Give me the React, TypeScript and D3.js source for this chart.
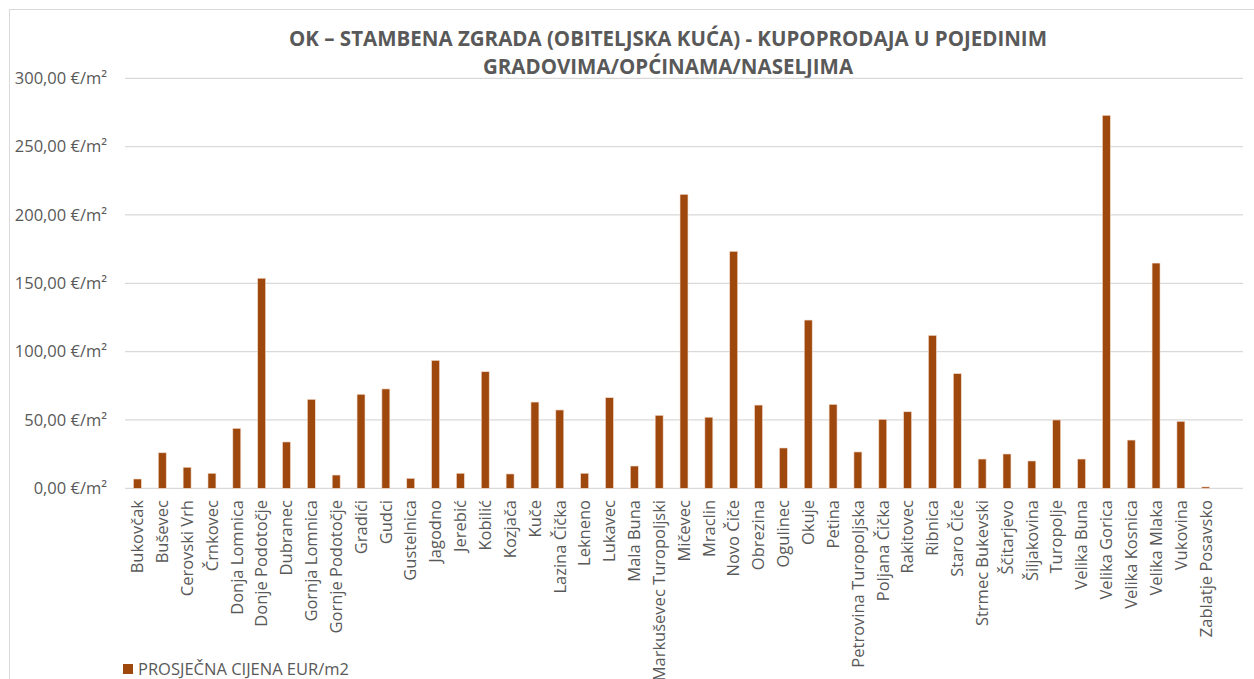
import React from "react";
import * as d3 from "d3";

const categories = [
  "Bukovčak", "Buševec", "Cerovski Vrh", "Črnkovec", "Donja Lomnica", "Donje Podotočje",
  "Dubranec", "Gornja Lomnica", "Gornje Podotočje", "Gradići", "Gudci", "Gustelnica",
  "Jagodno", "Jerebić", "Kobilić", "Kozjača", "Kuče", "Lazina Čička", "Lekneno", "Lukavec",
  "Mala Buna", "Markuševec Turopoljski", "Mičevec", "Mraclin", "Novo Čiče", "Obrezina",
  "Ogulinec", "Okuje", "Petina", "Petrovina Turopoljska", "Poljana Čička", "Rakitovec",
  "Ribnica", "Staro Čiče", "Strmec Bukevski", "Ščitarjevo", "Šiljakovina", "Turopolje",
  "Velika Buna", "Velika Gorica", "Velika Kosnica", "Velika Mlaka", "Vukovina", "Zablatje Posavsko",
];

const values = [
  6.8, 26.0, 15.4, 11.0, 43.9, 153.7,
  33.9, 65.1, 9.7, 68.8, 72.7, 7.3,
  93.6, 11.0, 85.3, 10.5, 63.1, 57.3, 11.0, 66.3,
  16.3, 53.4, 215.1, 52.0, 173.4, 60.9,
  29.5, 123.1, 61.4, 26.6, 50.5, 56.0,
  111.9, 83.9, 21.4, 25.1, 20.0, 50.0,
  21.4, 272.9, 35.3, 164.8, 49.0, 1.0,
];

const yTicks = [0, 50, 100, 150, 200, 250, 300];
const titleLines = [
  "OK – STAMBENA ZGRADA (OBITELJSKA KUĆA) - KUPOPRODAJA U POJEDINIM",
  "GRADOVIMA/OPĆINAMA/NASELJIMA",
];
const seriesName = "PROSJEČNA CIJENA EUR/m2";

const W = 1254;
const H = 679;
const plotLeft = 125;
const plotRight = 1243;
const plotTop = 78.3;
const plotBottom = 488.3;
const barColor = "#9E480E";
const textColor = "#595959";
const gridColor = "#d9d9d9";
const font = "'Open Sans', 'Noto Sans', sans-serif";
const labelSize = 16.5;

const fmt = (v: number) => d3.format(".2f")(v).replace(".", ",") + " €/m²";

export default function App() {
  const step = (plotRight - plotLeft) / (categories.length + 1);
  const x = d3
    .scaleBand<string>()
    .domain(categories)
    .range([plotLeft, plotRight - step])
    .paddingInner(0)
    .paddingOuter(0);
  const y = d3.scaleLinear().domain([0, 300]).range([plotBottom, plotTop]);
  const barW = step * 0.32;

  return (
    <div style={{ position: "absolute", left: 0, top: 0 }}>
      <svg width={W} height={H} style={{ display: "block", background: "#fff" }}>
        <rect x={9.5} y={9.5} width={W + 20} height={H + 40} fill="#fff" stroke={gridColor} strokeWidth={1} />
        {titleLines.map((t, i) => (
          <text
            key={i}
            x={668}
            y={46 + i * 28}
            textAnchor="middle"
            fontFamily={font}
            fontWeight={700}
            fontSize={20.5}
            fill={textColor}
          >
            {t}
          </text>
        ))}
        {yTicks.map((t) => (
          <g key={t}>
            <line x1={plotLeft} x2={plotRight} y1={y(t)} y2={y(t)} stroke={gridColor} strokeWidth={1.3} />
            <text
              x={107}
              y={y(t)}
              dy="0.35em"
              textAnchor="end"
              fontFamily={font}
              fontSize={labelSize}
              fill={textColor}
            >
              {fmt(t)}
            </text>
          </g>
        ))}
        {categories.map((c, i) => (
          <rect
            key={c}
            x={(x(c) as number) + (step - barW) / 2}
            y={y(values[i])}
            width={barW}
            height={plotBottom - y(values[i])}
            fill={barColor}
            stroke="#f3dccd"
            strokeWidth={0.6}
          />
        ))}
        {categories.map((c) => {
          const cx = (x(c) as number) + step / 2;
          return (
            <text
              key={"l" + c}
              transform={`translate(${cx},500) rotate(-90)`}
              dy="0.35em"
              textAnchor="end"
              fontFamily={font}
              fontSize={labelSize}
              fill={textColor}
            >
              {c}
            </text>
          );
        })}
        <rect x={123} y={664} width={10} height={10} fill={barColor} />
        <text x={138} y={675} fontFamily={font} fontSize={labelSize} fill={textColor}>
          {seriesName}
        </text>
      </svg>
    </div>
  );
}
